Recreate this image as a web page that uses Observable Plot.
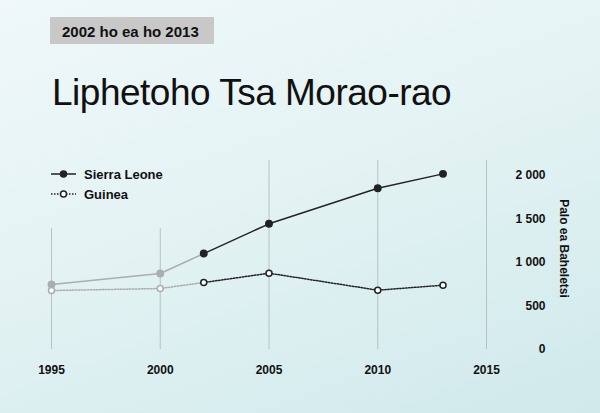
<!DOCTYPE html>
<html>
<head>
<meta charset="utf-8">
<script src="https://cdn.jsdelivr.net/npm/d3@7"></script>
<script src="https://cdn.jsdelivr.net/npm/@observablehq/plot@0.6"></script>
<style>
  html, body { margin: 0; padding: 0; }
  body { width: 600px; height: 413px; overflow: hidden; position: relative;
         background: linear-gradient(160deg, #f0f8f9 0%, #e2f2f3 50%, #d0e9eb 100%);
         font-family: "Liberation Sans", Arial, sans-serif; color: #111; }
  #sub { position: absolute; left: 50px; top: 17px; width: 164px; height: 27px;
         background: #c8c8c8; font-size: 15px; font-weight: bold; line-height: 29px;
         box-sizing: border-box; padding-left: 12px; white-space: nowrap; color: #111; }
  #title { position: absolute; left: 52px; top: 74px; font-size: 37px; line-height: 37px;
           letter-spacing: -0.5px; font-weight: normal; white-space: nowrap; color: #111; }
  #legend { position: absolute; left: 51px; top: 164px; font-size: 13px; font-weight: bold; }
  .li { display: flex; align-items: center; height: 20px; white-space: nowrap; }
  .li svg { margin-right: 7px; }
  #chart { position: absolute; left: 0; top: 140px; }
</style>
</head>
<body>
<div id="sub"></div>
<div id="title"></div>
<div id="legend"></div>
<div id="chart"></div>
<script>
const subtitle = "2002 ho ea ho 2013";
const title = "Liphetoho Tsa Morao-rao";
const yLabel = "Palo ea Baheletsi";
const seriesNames = ["Sierra Leone", "Guinea"];
const years = [1995, 2000, 2002, 2005, 2010, 2013];
const sierraLeone = [747, 874, 1103, 1445, 1853, 2019];
const guinea = [678, 701, 770, 877, 682, 739];
const highlightFrom = 2002;
const xTicks = [1995, 2000, 2005, 2010, 2015];
const yTicks = [0, 500, 1000, 1500, 2000];
const gridTop = [1390, 1390, 2172, 2172, 2172];

const dark = "#222222", gray = "#a9aeaf";

document.getElementById("sub").textContent = subtitle;
document.getElementById("title").textContent = title;

// legend
const legend = document.getElementById("legend");
seriesNames.forEach((name, i) => {
  const row = document.createElement("div");
  row.className = "li";
  const dash = i === 0 ? "" : 'stroke-dasharray="1.5,1.5"';
  const fill = i === 0 ? dark : "#ffffff";
  row.innerHTML = `<svg width="26" height="10"><line x1="0" y1="5" x2="25" y2="5" stroke="${dark}" stroke-width="1.5" ${dash}/><circle cx="12.5" cy="5" r="3" fill="${fill}" stroke="${dark}" stroke-width="1.5"/></svg><span>${name}</span>`;
  legend.appendChild(row);
});

const rows = years.map((y, i) => ({year: y, sl: sierraLeone[i], gn: guinea[i]}));
const early = rows.filter(d => d.year <= highlightFrom);
const late = rows.filter(d => d.year >= highlightFrom);
const earlyPts = rows.filter(d => d.year < highlightFrom);
const grid = xTicks.map((x, i) => ({x, top: gridTop[i]}));
const fmt = d3.formatLocale({thousands: "\u00a0", grouping: [3], decimal: ","}).format(",d");

const chart = Plot.plot({
  width: 600,
  height: 273,
  marginLeft: 51,
  marginRight: 114,
  marginTop: 35,
  marginBottom: 64,
  style: {background: "transparent", fontFamily: "Liberation Sans, Arial, sans-serif", color: "#111"},
  x: {domain: [1995, 2015]},
  y: {domain: [0, 2000]},
  marks: [
    Plot.ruleX(grid, {x: "x", y1: 0, y2: "top", stroke: "#b7c2c3", strokeWidth: 1}),
    Plot.axisX({ticks: xTicks, tickSize: 0, tickPadding: 16, tickFormat: d => String(d), label: null,
                fontSize: 12, fontWeight: "bold"}),
    Plot.axisY({anchor: "right", ticks: yTicks, tickSize: 0, tickPadding: 59, textAnchor: "end",
                tickFormat: fmt, label: null, fontSize: 12, fontWeight: "bold"}),
    Plot.text([yLabel], {frameAnchor: "right", rotate: 90, textAnchor: "middle", dx: 77, dy: -14,
                fontSize: 12, fontWeight: "bold", fill: "#111"}),
    Plot.line(early, {x: "year", y: "sl", stroke: gray, strokeWidth: 1.5}),
    Plot.line(early, {x: "year", y: "gn", stroke: gray, strokeWidth: 1.5, strokeDasharray: "1.5,1.5"}),
    Plot.line(late, {x: "year", y: "sl", stroke: dark, strokeWidth: 1.4}),
    Plot.line(late, {x: "year", y: "gn", stroke: dark, strokeWidth: 1.5, strokeDasharray: "1.5,1.5"}),
    Plot.dot(earlyPts, {x: "year", y: "sl", r: 3.2, fill: gray, stroke: gray}),
    Plot.dot(earlyPts, {x: "year", y: "gn", r: 3, fill: "#ffffff", stroke: gray, strokeWidth: 1.5}),
    Plot.dot(late, {x: "year", y: "sl", r: 3.2, fill: dark, stroke: dark}),
    Plot.dot(late, {x: "year", y: "gn", r: 3, fill: "#ffffff", stroke: dark, strokeWidth: 1.5})
  ]
});
document.getElementById("chart").appendChild(chart);
</script>
</body>
</html>
